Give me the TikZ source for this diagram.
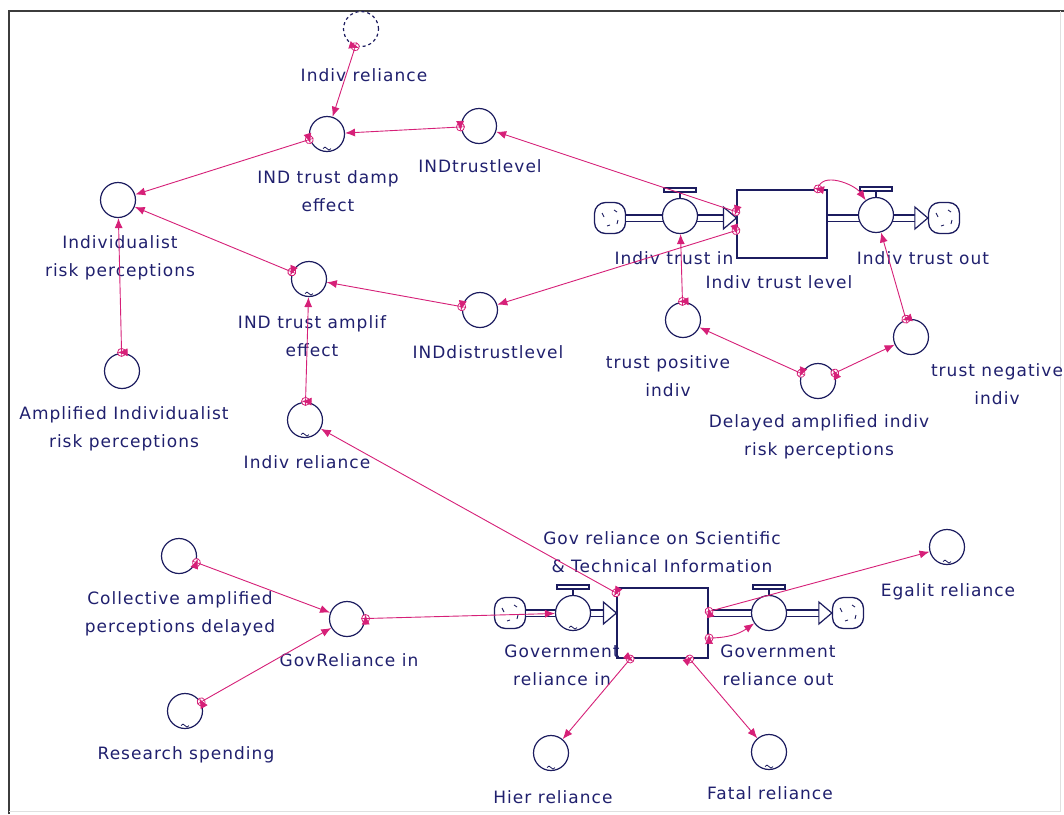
\documentclass[tikz,border=0pt]{standalone}
\usepackage{fontspec}
\setmainfont{DejaVu Sans}[LetterSpace=6]
\usetikzlibrary{arrows.meta,calc,decorations.markings}
\definecolor{navy}{RGB}{28,28,95}
\definecolor{txt}{RGB}{32,32,110}
\definecolor{mag}{RGB}{214,32,120}
\definecolor{frm}{RGB}{60,60,60}
\tikzset{
 var/.style={circle,draw=navy,line width=1.2pt,minimum size=35pt,inner sep=0pt,fill=white},
 ghost/.style={var,dashed},
 stockbox/.style={rectangle,draw=navy,line width=1.2pt,inner sep=0pt,fill=white},
 cloudnode/.style={rectangle,rounded corners=11pt,draw=navy,line width=1.3pt,minimum size=31pt,inner sep=0pt,fill=white},
 lbl/.style={text=txt,font=\fontsize{17}{28}\selectfont,align=center,inner sep=0pt},
 link/.style={draw=mag,line width=0.9pt,-{Latex[length=10pt,width=8pt]},
   postaction={decorate,decoration={markings,mark=at position 0.5pt with {
     \draw[mag,line width=0.8pt,fill=white] (0,0) circle (4pt);
     \draw[mag,line width=0.7pt] (-4pt,0)--(4pt,0) (0,-4pt)--(0,4pt);}}}},
 pipe/.style={draw=navy,line width=1.2pt,double=white,double distance=5pt},
 flowtip/.style={draw=navy,line width=1.2pt,fill=white},
}
\newcommand\valvetop[1]{\draw[navy,line width=1.2pt,fill=white] ($(#1.north)+(-16,6)$) rectangle ($(#1.north)+(16,10)$); \draw[navy,line width=1.2pt] (#1.north) -- ++(0,6);}
\newcommand\tld[1]{\draw[navy,line width=0.8pt] ($(#1.south)+(-4,3.5)$) sin ++(2,1.5) cos ++(2,-1.5) sin ++(2,-1.5) cos ++(2,1.5);}
\newcommand\cloudmarks[1]{\draw[navy,line width=0.9pt] ($(#1)+(-8,5)$) -- ++(2,-4) ($(#1)+(4,8)$) -- ++(3,-2) ($(#1)+(8,-2)$) -- ++(-1,-4) ($(#1)+(-3,-8)$) -- ++(3,1);}
\begin{document}
\begin{tikzpicture}[x=1pt,y=1pt]
\useasboundingbox (0,0) rectangle (1064,-814);
\fill[white] (0,0) rectangle (1064,-814);
% frame
\draw[frm,line width=2pt] (9,-814) -- (9,-11) -- (1064,-11);
\draw[black!12,line width=1pt] (1060,-11) -- (1060,-811) -- (9,-811);

% stocks and clouds
\node[stockbox,minimum width=90pt,minimum height=68pt] (s1) at (782,-224) {};
\node[stockbox,minimum width=91pt,minimum height=70pt] (s2) at (662.5,-623) {};
\node[cloudnode] (c1) at (610,-218) {};
\node[cloudnode] (c2) at (944,-218) {};
\node[cloudnode] (c3) at (510,-613) {};
\node[cloudnode] (c4) at (848,-613) {};
\cloudmarks{c1}\cloudmarks{c2}\cloudmarks{c3}\cloudmarks{c4}

% pipes
\draw[pipe] (c1.east) -- ($(s1.west|-c1.east)+(-12,0)$);
\draw[flowtip] (s1.west|-c1.east) -- ++(-13,11) -- ++(0,-22) -- cycle;
\draw[pipe] (s1.east|-c2.west) -- ($(c2.west)+(-12,0)$);
\draw[flowtip] (c2.west) -- ++(-13,11) -- ++(0,-22) -- cycle;
\draw[pipe] (c3.east) -- ($(s2.west|-c3.east)+(-12,0)$);
\draw[flowtip] (s2.west|-c3.east) -- ++(-13,11) -- ++(0,-22) -- cycle;
\draw[pipe] (s2.east|-c4.west) -- ($(c4.west)+(-12,0)$);
\draw[flowtip] (c4.west) -- ++(-13,11) -- ++(0,-22) -- cycle;

% valves
\node[var] (v1) at (680,-216) {};
\node[var] (v2) at (876,-215) {};
\node[var] (v3) at (573,-613) {};
\node[var] (v4) at (769,-613) {};
\valvetop{v1}\valvetop{v2}\valvetop{v3}\valvetop{v4}

% converters
\node[ghost] (gh) at (361,-29) {};
\node[var] (damp) at (327,-134) {};
\node[var] (itl) at (479,-126) {};
\node[var] (irp) at (118,-200) {};
\node[var] (amp) at (309,-279) {};
\node[var] (idl) at (480,-310) {};
\node[var] (airp) at (122,-371) {};
\node[var] (ir2) at (305,-420) {};
\node[var] (tp) at (683,-320) {};
\node[var] (tn) at (911,-337) {};
\node[var] (del) at (818,-381) {};
\node[var] (cad) at (179,-556) {};
\node[var] (rs) at (185,-711) {};
\node[var] (gri) at (347,-619) {};
\node[var] (eg) at (947,-547) {};
\node[var] (hier) at (551,-753) {};
\node[var] (fatal) at (769,-752) {};
\tld{damp}\tld{amp}\tld{ir2}\tld{rs}\tld{v3}\tld{eg}\tld{hier}\tld{fatal}

% labels
\node[lbl] (l1) at (364,-75) {Indiv reliance};
\node[lbl] (l2) at (328,-191.5) {IND trust damp\\effect};
\node[lbl] (l3) at (480,-166) {INDtrustlevel};
\node[lbl] (l4) at (120,-257.5) {Individualist\\risk perceptions};
\node[lbl] (l5) at (312,-336) {IND trust amplif\\effect};
\node[lbl] (l6) at (488,-352) {INDdistrustlevel};
\node[lbl] (l7) at (124,-429) {Amplified Individualist\\risk perceptions};
\node[lbl] (l8) at (307,-462) {Indiv reliance};
\node[lbl] (l9) at (674,-258) {Indiv trust in};
\node[lbl] (l10) at (779,-282) {Indiv trust level};
\node[lbl] (l11) at (923,-258) {Indiv trust out};
\node[lbl] (l12) at (668,-376) {trust positive\\indiv};
\node[lbl] (l13) at (997,-384) {trust negative\\indiv};
\node[lbl] (l14) at (819,-437) {Delayed amplified indiv\\risk perceptions};
\node[lbl] (l15) at (662,-552.5) {Gov reliance on Scientific\\\& Technical Information};
\node[lbl] (l16) at (180,-614) {Collective amplified\\perceptions delayed};
\node[lbl] (l17) at (349,-660) {GovReliance in};
\node[lbl] (l18) at (186,-755) {Research spending};
\node[lbl] (l19) at (562,-665) {Government\\reliance in};
\node[lbl] (l20) at (778,-665) {Government\\reliance out};
\node[lbl] (l21) at (948,-592) {Egalit reliance};
\node[lbl] (l22) at (553,-797) {Hier reliance};
\node[lbl] (l23) at (770,-793) {Fatal reliance};

% connectors
\draw[link] (gh) -- (damp);
\draw[link] (itl) -- (damp);
\draw[link] (damp) -- (irp);
\draw[link] (amp) -- (irp);
\draw[link] (idl) -- (amp);
\draw[link] (airp) -- (irp);
\draw[link] (ir2) -- (amp);
\draw[link] (s1.165) -- (itl);
\draw[link] (s1.188) -- (idl);
\draw[link] (s1.44) to[out=80,in=125] (v2);
\draw[link] (tp) -- (v1);
\draw[link] (del) -- (tp);
\draw[link] (del) -- (tn);
\draw[link] (tn) -- (v2);
\draw[link] (cad) -- (gri);
\draw[link] (rs) -- (gri);
\draw[link] (gri) -- (v3);
\draw[link] (s2.147) -- (ir2);
\draw[link] (s2.14) -- (eg);
\draw[link] (s2.342) to[out=0,in=215] (v4);
\draw[link] (s2.228) -- (hier);
\draw[link] (s2.307) -- (fatal);
\end{tikzpicture}
\end{document}
